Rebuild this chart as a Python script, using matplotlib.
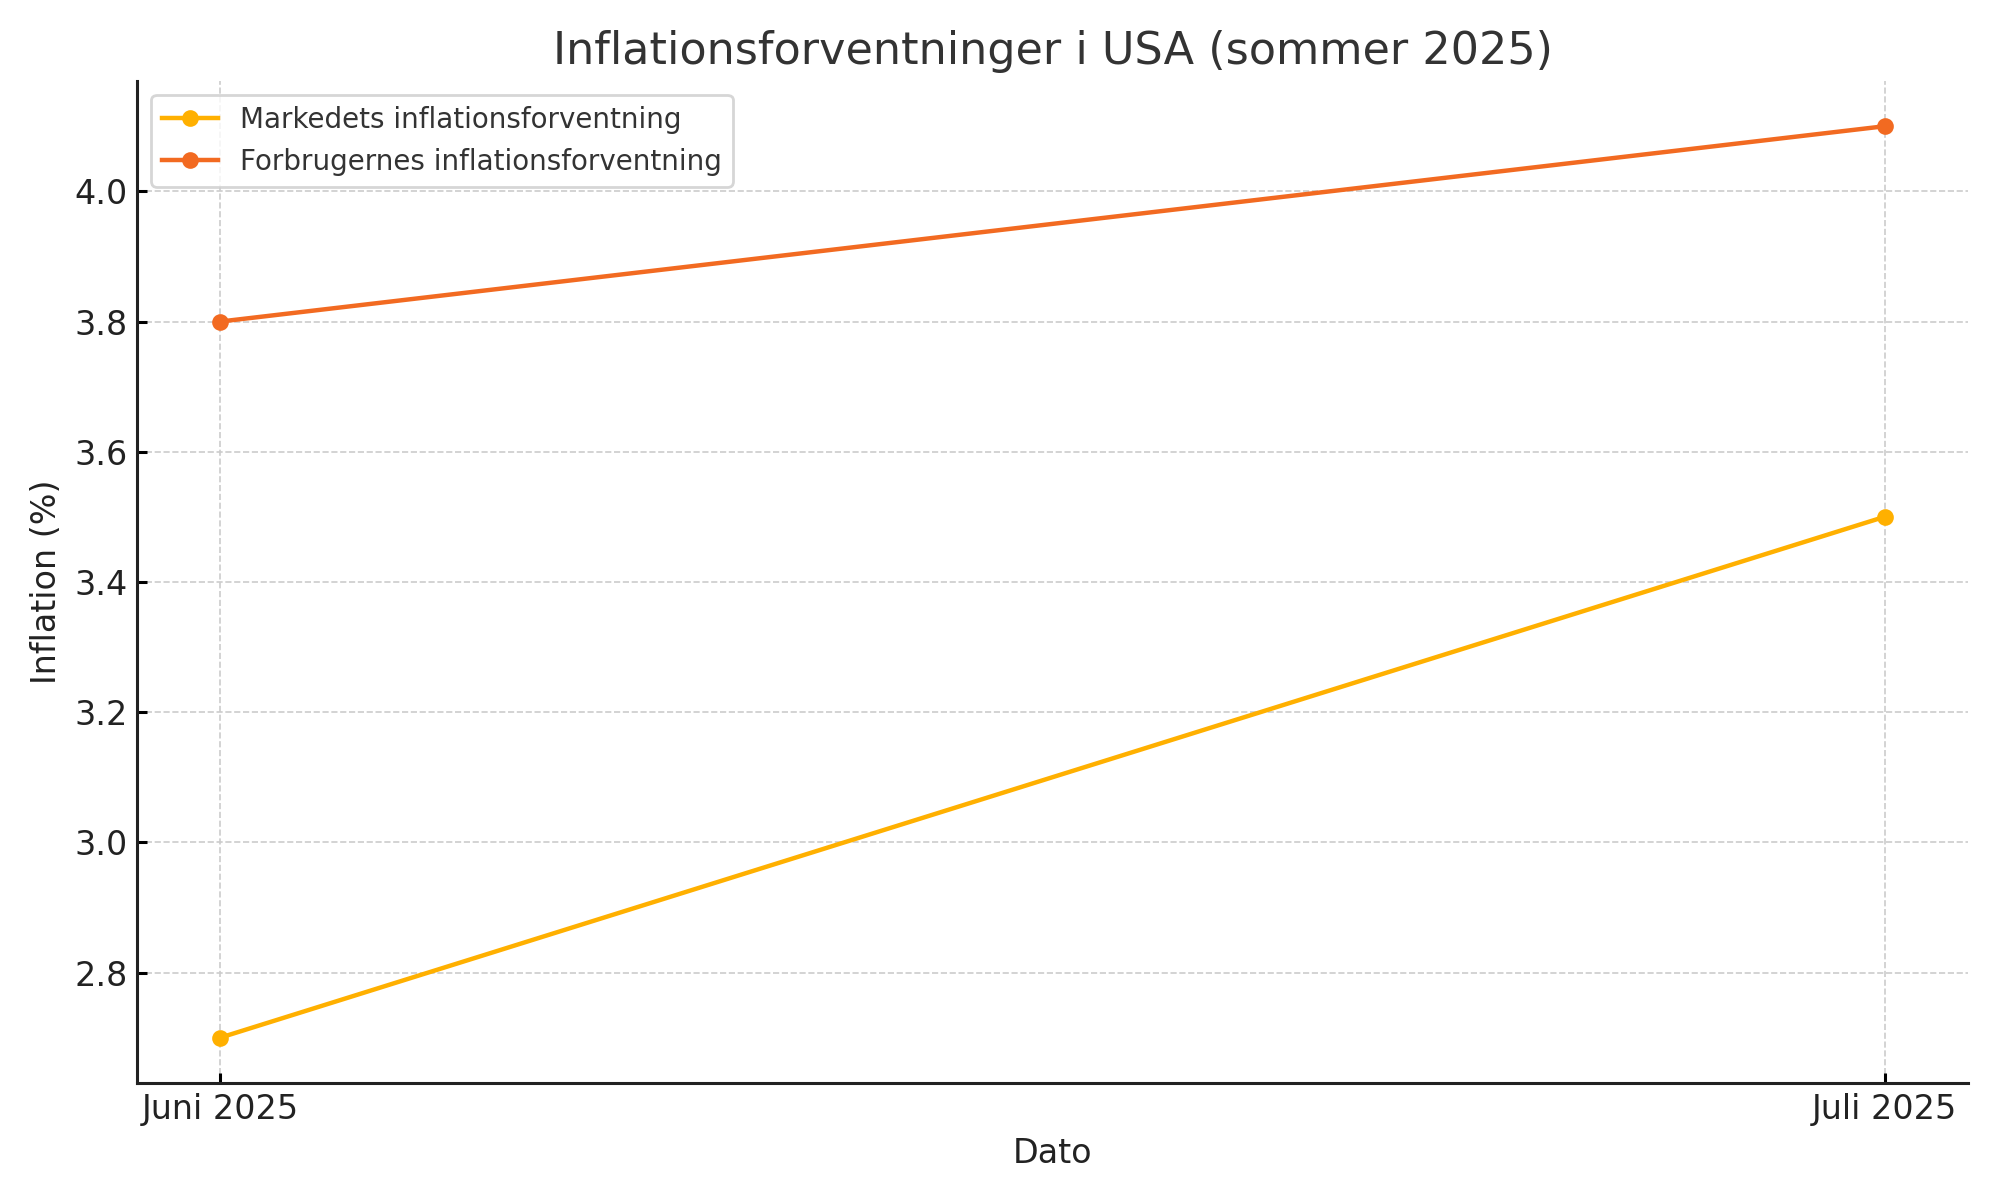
import matplotlib
matplotlib.use("Agg")
import matplotlib.pyplot as plt

dates = ["Juni 2025", "Juli 2025"]
market = [2.7, 3.5]
consumer = [3.8, 4.1]
labels = ["Markedets inflationsforventning", "Forbrugernes inflationsforventning"]

plt.rcParams['font.family'] = ['DejaVu Sans']
fig, ax = plt.subplots(figsize=(10, 6), dpi=200)
x = range(len(dates))
ax.plot(x, market, marker='o', color='#FFB000', linewidth=1.6, markersize=5, label=labels[0])
ax.plot(x, consumer, marker='o', color='#F26A21', linewidth=1.6, markersize=5, label=labels[1])
ax.set_xticks(list(x))
ax.set_xticklabels(dates, fontsize=12, color='#222222')
ax.tick_params(axis='y', labelsize=12, labelcolor='#222222')
ax.tick_params(width=1.1, direction='in')
ax.set_title("Inflationsforventninger i USA (sommer 2025)", fontsize=16, color='#333333')
ax.set_xlabel("Dato", fontsize=12, color='#222222')
ax.set_ylabel("Inflation (%)", fontsize=12, color='#222222')
ax.grid(True, linestyle='--', color='#cccccc', linewidth=0.6)
ax.spines['top'].set_visible(False)
ax.spines['right'].set_visible(False)
for s in ['left', 'bottom']:
    ax.spines[s].set_color('#222222')
    ax.spines[s].set_linewidth(1.1)
ax.legend(loc='upper left', fontsize=10, labelcolor='#333333')
fig.tight_layout()
fig.savefig("out.png", dpi=200)
